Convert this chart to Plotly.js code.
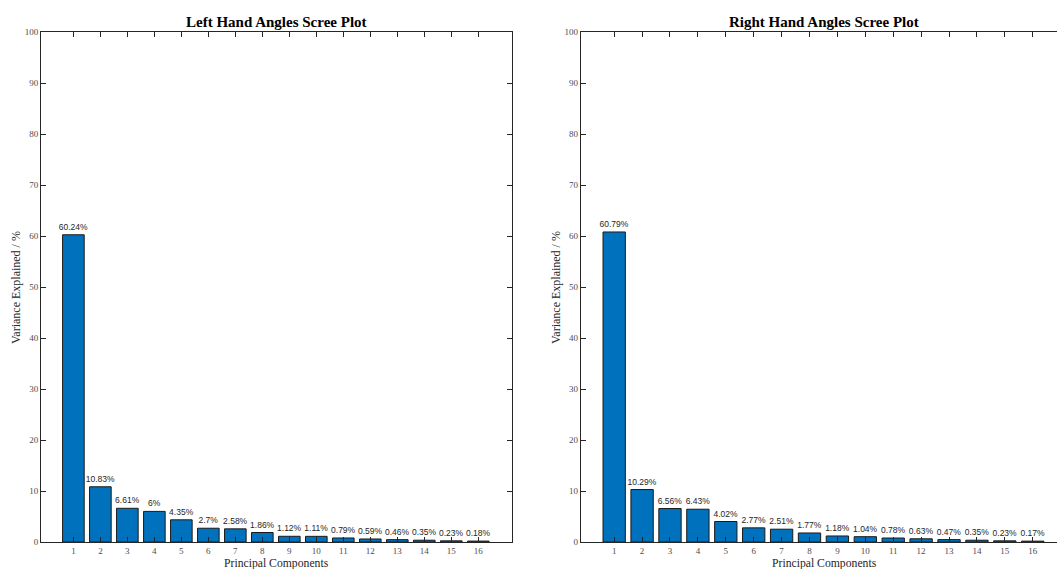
<!DOCTYPE html>
<html>
<head>
<meta charset="utf-8">
<script src="https://cdn.plot.ly/plotly-3.0.1.min.js"></script>
<style>html,body{margin:0;padding:0;background:#fff}#chart{width:1057px;height:569px}</style>
</head>
<body>
<div id="chart"></div>
<script>
const components = [1,2,3,4,5,6,7,8,9,10,11,12,13,14,15,16];
const leftVariance = [60.24,10.83,6.61,6,4.35,2.7,2.58,1.86,1.12,1.11,0.79,0.59,0.46,0.35,0.23,0.18];
const rightVariance = [60.79,10.29,6.56,6.43,4.02,2.77,2.51,1.77,1.18,1.04,0.78,0.63,0.47,0.35,0.23,0.17];
const yTicks = [0,10,20,30,40,50,60,70,80,90,100];
const leftTitle = 'Left Hand Angles Scree Plot';
const rightTitle = 'Right Hand Angles Scree Plot';
const xTitle = 'Principal Components';
const yTitle = 'Variance Explained / %';

const W = 1057, H = 569;
const barColor = '#0072BD';
function barTrace(vals, xa, ya){
  return {
    type:'bar', x:components, y:vals, xaxis:xa, yaxis:ya,
    width:0.8,
    marker:{color:barColor, line:{color:'#1a1a1a', width:1}},
    text: vals.map(v => v + '%'),
    textposition:'outside', constraintext:'none', cliponaxis:false,
    textfont:{family:'Liberation Sans, Arial, sans-serif', size:8.5, color:'#262626'},
    hoverinfo:'x+y', showlegend:false
  };
}
const serif = 'Liberation Serif, Times New Roman, serif';
const tickFont = {family:serif, size:9, color:'#4d4d4d'};
const axCommon = {
  showgrid:false, zeroline:false, showline:true, linecolor:'#262626', linewidth:1,
  ticks:'inside', ticklen:5, tickcolor:'#262626', tickwidth:1, tickfont:tickFont,
  layer:'above traces', fixedrange:true
};
const yTop = 32, yBot = 542;
const ydom = [1 - yBot/H, 1 - yTop/H];
const layout = {
  width:W, height:H, margin:{l:0,r:0,t:0,b:0},
  paper_bgcolor:'#fff', plot_bgcolor:'#fff', bargap:0.2,
  xaxis: Object.assign({}, axCommon, {domain:[41/W, 512/W], range:[-0.2,17.25], tickmode:'array', tickvals:components, ticktext:components.map(String), mirror:'ticks', anchor:'y'}),
  yaxis: Object.assign({}, axCommon, {domain:ydom, range:[0,100], tickmode:'array', tickvals:yTicks, mirror:'ticks', anchor:'x'}),
  xaxis2: Object.assign({}, axCommon, {domain:[580.7/W, 1], range:[-0.2,16.87], tickmode:'array', tickvals:components, ticktext:components.map(String), mirror:'ticks', anchor:'y2'}),
  yaxis2: Object.assign({}, axCommon, {domain:ydom, range:[0,100], tickmode:'array', tickvals:yTicks, mirror:false, anchor:'x2'}),
  annotations:[
    {text:'<b>'+leftTitle+'</b>', xref:'paper', yref:'paper', x:(41+512)/2/W, y:1-22/H, xanchor:'center', yanchor:'middle', showarrow:false, font:{family:serif, size:15, color:'#000'}},
    {text:'<b>'+rightTitle+'</b>', xref:'paper', yref:'paper', x:(580.7+1068)/2/W, y:1-22/H, xanchor:'center', yanchor:'middle', showarrow:false, font:{family:serif, size:15, color:'#000'}},
    {text:xTitle, xref:'paper', yref:'paper', x:(41+512)/2/W, y:1-563/H, xanchor:'center', yanchor:'middle', showarrow:false, font:{family:serif, size:11.7, color:'#262626'}},
    {text:xTitle, xref:'paper', yref:'paper', x:(580.7+1068)/2/W, y:1-563/H, xanchor:'center', yanchor:'middle', showarrow:false, font:{family:serif, size:11.7, color:'#262626'}},
    {text:yTitle, xref:'paper', yref:'paper', x:16/W, y:1-288/H, xanchor:'center', yanchor:'middle', textangle:-90, showarrow:false, font:{family:serif, size:12, color:'#262626'}},
    {text:yTitle, xref:'paper', yref:'paper', x:556/W, y:1-288/H, xanchor:'center', yanchor:'middle', textangle:-90, showarrow:false, font:{family:serif, size:12, color:'#262626'}}
  ]
};
Plotly.newPlot('chart', [barTrace(leftVariance,'x','y'), barTrace(rightVariance,'x2','y2')], layout, {staticPlot:true, displayModeBar:false});
</script>
</body>
</html>
